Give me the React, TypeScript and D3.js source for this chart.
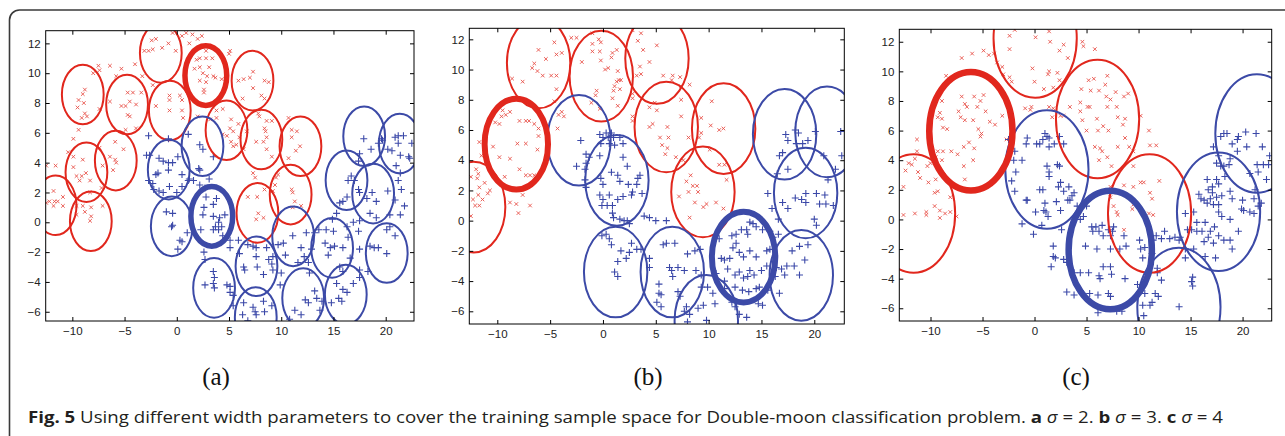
import * as d3 from "d3";
import { useEffect, useRef } from "react";

const WIDTH = 1285;
const HEIGHT = 436;

const xTicks = [-10, -5, 0, 5, 10, 15, 20];
const yTicks = [-6, -4, -2, 0, 2, 4, 6, 8, 10, 12];
const panelLabels = ["(a)", "(b)", "(c)"];
const sigmas = [2, 3, 4];

// axis ranges
const xRangeA = [-12.55, 22.71];
const yRangeA = [-6.62, 12.85];
const xRangeB = [-12.65, 22.84];
const yRangeB = [-6.84, 12.73];
const xRangeC = [-13.0, 22.8];
const yRangeC = [-6.86, 12.84];

// ---- panel (a), sigma = 2
const redA = [
	[-2.4, 12.2], [-2.0, 12.3], [-3.1, 11.5], [-2.7, 11.5], [-2.3, 11.6], [-1.4, 11.7], [-0.8, 12.0], [-0.1, 11.5], [-0.4, 12.7], [0.5, 12.5], [0.9, 12.7], [1.5, 12.6], [2.4, 12.5], [1.2, 12.0], [2.0, 12.3],
	[1.9, 10.9], [2.2, 11.0], [2.8, 11.0], [3.4, 11.0], [1.7, 10.3], [2.2, 10.4], [3.1, 10.4], [2.5, 10.0], [2.9, 9.8], [3.5, 9.8], [2.2, 9.5], [2.8, 9.4], [2.6, 8.9], [2.6, 8.7], [2.8, 11.5], [3.7, 9.7], [4.3, 9.6], [5.1, 11.5], [5.0, 11.3],
	[5.9, 9.5], [6.4, 9.6], [7.0, 9.7], [7.3, 10.1], [8.4, 9.5], [8.8, 9.4], [7.3, 9.0], [6.3, 8.3], [8.1, 8.5], [8.4, 8.3],
	[-8.8, 8.9], [-9.0, 8.6], [-9.4, 8.2], [-8.9, 8.0], [-9.5, 7.7], [-8.8, 7.3], [-8.6, 7.1], [-9.1, 7.0], [-9.4, 6.2], [-8.0, 10.0], [-7.5, 10.5], [-7.4, 10.2], [-6.4, 10.5], [-5.8, 9.8], [-5.3, 10.3], [-4.0, 10.6], [-3.3, 9.8], [-2.3, 9.2], [-6.4, 8.1], [-4.7, 8.7], [-4.2, 8.7], [-5.3, 7.8], [-4.9, 7.8], [-4.5, 8.1], [-3.9, 7.9], [-4.7, 7.2], [-4.5, 7.1], [-3.4, 8.7], [-7.4, 7.6], [-9.9, 5.6], [-4.9, 6.2],
	[-0.7, 8.5], [0.3, 8.5], [-0.7, 8.2], [0.5, 8.2], [-0.7, 7.5], [0.5, 7.5], [-2.0, 7.8], [0.6, 7.0], [2.0, 7.1],
	[3.8, 7.5], [4.4, 7.6], [5.2, 6.9], [5.9, 6.6], [5.1, 6.3], [5.4, 6.1], [4.4, 5.9], [5.2, 5.4], [5.4, 5.1], [5.7, 5.2], [3.8, 7.0], [4.8, 5.8], [3.2, 6.9], [6.0, 5.7],
	[7.8, 7.3], [7.9, 7.1], [8.6, 6.8], [9.1, 6.8], [8.4, 6.3], [8.5, 6.1], [7.6, 5.4], [8.3, 5.4], [8.6, 5.7], [8.6, 4.9], [9.1, 4.4], [6.7, 6.1], [6.4, 4.9], [7.3, 3.3], [7.5, 3.0], [9.7, 3.2], [9.5, 3.0], [9.4, 2.5],
	[10.7, 7.0], [11.0, 6.2], [11.5, 6.1], [11.0, 5.7], [11.8, 5.1], [11.4, 4.8], [10.7, 4.3],
	[11.0, 2.2], [11.1, 2.0], [11.3, 1.4], [11.1, 1.0], [11.9, 1.1],
	[6.8, 1.7], [7.7, 1.7], [8.4, 2.2], [7.8, 0.6], [7.6, 0.2], [8.3, 0.3], [9.2, 2.1],
	[-5.9, 5.4], [-7.4, 5.0], [-6.4, 4.4], [-5.9, 4.2], [-5.8, 4.0], [-6.1, 3.5], [-7.1, 3.8], [-5.1, 4.9], [-3.9, 6.3], [-7.2, 2.3],
	[-9.0, 4.2], [-9.9, 3.7], [-9.6, 3.1], [-9.1, 3.1], [-8.7, 3.3], [-8.3, 2.8], [-9.3, 2.8], [-10.4, 4.7], [-12.5, 3.8], [-11.6, 3.8], [-9.9, 4.4], [-8.3, 2.0],
	[-11.8, 2.1], [-10.9, 1.7], [-12.2, 1.4], [-11.7, 1.4], [-11.8, 1.1], [-11.4, 1.4], [-10.9, 1.1], [-12.5, 1.3],
	[-9.6, 1.1], [-9.0, 1.1], [-8.2, 1.0], [-8.2, 0.4], [-8.3, 0.1], [-9.6, 0.5], [-8.8, 0.7], [-7.1, 1.1]
];

const blueA = [
	[-2.7, 5.8], [-0.8, 5.6], [-2.9, 4.5], [-2.6, 4.5], [-1.7, 4.3], [-1.3, 4.1], [-0.8, 4.0], [-0.4, 4.0], [0.1, 4.4], [-1.8, 3.3], [-2.7, 2.8], [-2.3, 2.6], [-2.2, 2.2], [-1.7, 2.1], [-1.3, 2.0], [-0.7, 2.4], [0.0, 2.0], [0.5, 2.4], [1.1, 2.8], [1.2, 2.9], [-0.8, 3.5], [0.5, 3.2], [1.1, 5.9], [-2.0, 3.2], [2.2, 5.2], [2.5, 4.9], [2.1, 3.6], [2.2, 3.5], [3.5, 4.4], [1.6, 2.8], [2.2, 2.5],
	[-1.0, 0.7], [-0.4, 0.6], [-0.5, -0.3], [-0.4, -0.2], [0.3, -1.2], [0.5, -1.3], [0.1, -1.8], [1.0, -0.7], [2.6, 1.0], [2.5, 0.5], [3.5, 0.4], [4.1, 0.3], [4.0, 0.0], [3.7, -0.3], [4.0, -0.5], [4.3, -0.3], [3.5, -0.5], [2.3, -0.5], [4.6, 0.5], [3.8, 1.6], [3.5, 1.2], [2.8, 1.7], [2.7, 2.3], [3.1, 2.9], [4.4, -0.9], [5.1, -1.2], [5.1, -1.7], [5.9, -1.2], [2.6, -2.0], [2.7, -2.5],
	[6.8, -1.5], [7.3, -1.6], [7.6, -1.7], [7.6, -2.3], [7.7, -3.0], [6.4, -3.0], [6.5, -3.2], [8.8, -2.5], [9.1, -2.8], [9.2, -3.2], [8.3, -3.5], [9.2, -2.3], [8.6, -1.7], [6.0, -2.1], [9.9, -4.2], [10.0, -3.4],
	[3.5, -3.3], [2.7, -4.2], [3.5, -4.1], [3.6, -3.7], [3.6, -4.4], [4.8, -4.2], [5.1, -4.3], [5.1, -4.7], [5.4, -4.9],
	[6.4, -5.4], [7.3, -5.7], [8.3, -5.3], [7.5, -6.0], [8.4, -6.0], [9.1, -5.6], [6.3, -6.2], [7.6, -6.2], [6.8, -6.6], [5.4, -5.6],
	[9.7, -1.5], [10.2, -1.4], [11.1, -0.9], [10.4, -2.2], [11.9, -1.7], [12.2, -2.3], [12.4, -0.7], [12.9, -1.8], [12.6, -2.7], [13.2, -0.7], [11.6, -2.7], [12.7, -3.4], [13.6, -0.5],
	[14.3, -0.5], [15.0, -0.6], [14.2, -1.4], [14.7, -1.7], [15.1, -1.6], [15.9, -1.7], [14.5, -2.2], [15.6, -3.0], [15.9, -3.3], [16.4, -1.0], [16.6, -2.4], [14.9, 0.2], [16.3, -0.3], [17.4, -0.6], [17.5, -1.8], [17.5, -3.2],
	[15.3, -4.1], [15.9, -4.5], [16.3, -4.7], [16.9, -4.1], [17.5, -3.7], [14.8, -5.4], [15.5, -5.1], [13.9, -5.3], [13.2, -4.6], [13.4, -5.1], [13.7, -5.9], [15.8, -5.3],
	[11.3, -5.9], [12.3, -5.2], [12.6, -5.4], [11.9, -6.2], [10.8, -6.5],
	[18.5, -1.6], [18.9, -1.7], [19.3, -1.7], [20.1, -2.1], [20.1, -0.5], [20.4, -0.3], [20.9, -0.9], [18.3, -3.3],
	[15.6, 1.3], [15.9, 1.4], [16.3, 1.7], [16.4, 2.8], [16.7, 3.1], [17.0, 2.8], [17.4, 2.2], [17.5, 2.0], [18.2, 1.6], [18.7, 2.0], [19.1, 1.4], [18.5, 0.6], [19.1, 0.3], [20.2, 2.1], [20.9, 1.5], [21.8, 1.1], [21.2, 2.8], [21.5, 2.2], [20.4, 0.5], [21.4, 0.5], [15.3, 0.6], [16.9, 0.0], [17.5, 0.1],
	[17.9, 5.6], [18.6, 4.9], [19.3, 5.3], [19.6, 5.6], [20.2, 4.9], [20.9, 5.7], [21.2, 5.8], [21.7, 5.8], [21.2, 5.3], [21.4, 4.5], [22.2, 4.4], [22.5, 5.3], [21.0, 3.8], [21.4, 3.3], [17.5, 4.6], [17.4, 4.1], [19.7, 5.5], [20.6, 4.8], [22.3, 4.3]
];

const redCentersA = [[-1.53, 11.36], [7.25, 9.5], [-9.0, 8.57], [-4.76, 7.9], [-0.67, 7.5], [4.76, 6.17], [8.1, 5.55], [11.84, 5.1], [-5.84, 4.14], [-8.65, 3.36], [-11.6, 1.14], [-8.23, 0.07], [7.72, 0.63], [10.9, 1.86]];
const blueCentersA = [[2.46, 5.1], [-0.77, 3.53], [-0.48, -0.27], [17.94, 5.77], [21.35, 5.28], [16.25, 2.82], [18.8, 1.92], [11.14, -0.94], [14.87, -1.72], [20.1, -2.06], [7.63, -2.95], [3.57, -4.4], [12.1, -5.08], [16.18, -4.85], [7.56, -6.35]];
const boldRedA = [2.78, 9.84];
const boldBlueA = [3.35, 0.4];

// ---- panel (b), sigma = 3
const redB = [
	[-6.1, 11.3], [-5.4, 10.7], [-4.6, 11.8], [-4.4, 11.0], [-3.9, 11.1], [-6.7, 10.1], [-6.5, 10.4], [-6.2, 9.9], [-5.7, 9.6], [-4.9, 9.6], [-4.4, 9.6], [-8.6, 9.4], [-7.6, 9.2], [-4.4, 8.7], [-4.6, 7.9], [-3.9, 7.2], [-4.2, 7.0], [-3.7, 6.9], [-4.3, 6.1], [-3.0, 12.1], [-2.5, 12.1], [-2.0, 10.5], [-1.0, 12.4],
	[-1.0, 11.7], [-0.4, 12.0], [-0.2, 11.8], [-1.0, 11.2], [-0.3, 11.2], [-0.2, 10.6], [0.9, 11.1], [0.8, 10.8], [1.3, 11.3], [0.2, 10.0], [0.5, 10.1], [1.4, 9.9], [1.5, 9.3], [1.3, 9.2], [1.0, 8.6], [1.1, 8.9], [1.7, 9.3], [-0.6, 8.6], [-0.7, 8.3], [0.9, 8.1], [1.4, 7.6], [-1.1, 7.8], [-0.3, 7.4], [1.6, 8.7],
	[2.8, 12.6], [3.6, 12.4], [3.3, 11.9], [3.8, 11.3], [5.1, 11.6], [3.5, 10.2], [3.6, 9.7], [4.4, 10.5], [5.7, 9.6], [6.6, 9.6], [7.3, 9.5], [6.5, 9.3], [8.2, 9.0], [7.4, 8.9], [2.8, 8.4], [2.8, 8.1], [3.2, 9.6],
	[4.4, 7.5], [4.9, 7.8], [5.1, 7.3], [7.4, 8.0], [7.4, 6.9], [6.1, 6.2], [4.4, 6.2], [4.7, 6.4], [5.4, 5.5], [6.2, 5.5], [5.6, 5.0], [6.1, 4.8], [5.9, 4.4], [6.9, 4.2], [7.6, 4.0], [2.8, 6.9], [2.8, 6.6], [8.1, 5.5],
	[10.3, 7.9], [9.3, 6.8], [10.2, 6.3], [11.0, 6.0], [11.4, 6.1], [9.1, 5.5], [9.3, 5.8], [10.1, 4.7], [11.0, 3.7], [11.5, 3.7], [11.7, 2.7],
	[8.3, 3.0], [7.9, 2.6], [8.5, 2.3], [8.9, 2.3], [9.0, 1.9], [8.1, 1.9], [7.2, 1.6], [8.7, 1.2], [9.5, 0.9], [9.8, 1.1], [10.7, 1.2], [11.4, 0.8], [8.2, 0.2],
	[-9.5, 7.3], [-8.8, 7.2], [-9.2, 7.0], [-9.6, 6.9], [-10.2, 6.5], [-9.8, 6.4], [-7.9, 6.6], [-7.3, 6.6], [-7.0, 6.6], [-6.5, 6.4], [-6.1, 6.1], [-6.1, 5.6], [-7.3, 5.1], [-8.1, 5.1], [-8.8, 4.1], [-9.8, 4.2], [-10.4, 4.9], [-11.7, 5.2], [-11.5, 4.3], [-6.9, 3.0], [-6.5, 3.0], [-9.3, 2.9], [-7.6, 1.7], [-6.9, 1.0], [-8.2, 1.1], [-8.8, 1.2], [-8.0, 0.5], [-6.2, 4.7], [-7.9, 3.4], [-7.3, 3.0],
	[-12.5, 2.9], [-12.0, 3.4], [-11.8, 3.1], [-11.9, 2.8], [-11.7, 2.2], [-11.2, 2.5], [-10.7, 2.0], [-11.8, 1.7], [-11.4, 1.4], [-10.9, 1.8], [-12.3, 1.4], [-12.1, 1.0], [-11.7, 1.0], [-12.5, 0.3]
];

const blueB = [
	[-2.1, 5.3], [-0.3, 5.7], [0.0, 5.5], [0.3, 5.8], [0.5, 5.5], [0.8, 5.8], [1.0, 5.5], [-0.2, 5.1], [0.6, 5.1], [1.1, 5.0], [1.6, 5.5], [1.9, 5.1], [-1.6, 4.4], [-1.3, 4.2], [-0.3, 4.3], [-1.6, 3.8], [-2.5, 3.6], [-1.7, 3.4], [-1.7, 2.7], [-1.6, 2.2], [-0.2, 2.8], [0.0, 2.4], [0.8, 3.2], [1.4, 3.0], [1.6, 2.6], [1.9, 4.2], [2.3, 3.6], [2.4, 2.4], [2.7, 1.7], [2.8, 1.9], [3.3, 2.8], [3.5, 3.0], [3.2, 2.4], [3.7, 1.8],
	[0.0, 1.4], [-0.1, 1.0], [0.4, 1.0], [0.9, 1.0], [0.9, 0.5], [1.0, 0.2], [1.6, 0.1], [2.0, 0.0], [2.3, 0.0], [2.5, -0.2], [3.9, 0.3], [4.4, 0.2], [5.0, 0.0], [6.0, 0.0], [0.3, -0.9], [-0.1, -1.0], [0.6, -1.2], [0.8, -1.6], [1.4, -2.7], [1.1, -3.4], [1.4, -3.7], [2.2, -2.5], [2.7, -1.5], [3.2, -1.9], [2.5, -2.1], [3.6, -1.9], [4.4, -2.5], [1.9, 1.6], [0.6, 1.7], [-0.3, 1.7], [1.4, 1.4], [1.7, -2.0],
	[5.7, -1.6], [6.0, -1.5], [6.8, -1.5], [4.4, -3.1], [6.3, -3.1], [6.5, -3.3], [6.6, -3.7], [7.1, -3.1], [7.7, -3.3], [8.0, -2.2], [8.7, -2.0], [9.2, -1.9], [8.8, -3.3], [9.3, -3.6], [5.3, -4.2], [5.3, -4.8], [5.5, -4.9], [5.1, -5.4], [5.5, -5.7], [7.1, -4.7], [7.3, -5.0], [7.9, -5.7], [7.7, -6.0], [8.2, -6.2], [8.0, -6.7], [9.0, -5.8], [9.5, -5.6], [9.8, -6.6], [10.4, -4.8], [10.6, -5.5], [9.9, -4.4], [9.3, -4.4],
	[11.0, -1.2], [12.2, -1.0], [12.6, -0.9], [13.1, -0.6], [13.6, -0.6], [13.7, -0.9], [13.9, -0.1], [14.2, -0.2], [14.5, -0.4], [15.1, -0.6], [15.8, -0.7], [16.1, -1.1], [16.6, -0.9], [12.6, -1.5], [12.3, -1.8], [12.9, -2.1], [13.9, -2.0], [15.5, -2.0], [15.8, -1.9], [11.2, -2.5], [11.5, -2.6], [12.0, -2.5], [13.3, -2.4], [14.5, -2.4],
	[10.7, -3.5], [11.8, -3.2], [12.5, -3.6], [12.9, -3.4], [13.3, -3.8], [13.7, -3.7], [14.3, -3.6], [13.9, -3.3], [15.0, -3.3], [15.5, -3.0], [11.5, -4.0], [12.5, -4.4], [11.5, -4.5], [13.2, -4.6], [13.8, -4.7], [14.5, -4.5], [14.8, -4.4], [15.6, -4.6], [12.2, -5.4], [12.5, -5.7], [12.9, -6.2], [13.6, -6.4], [14.7, -5.5], [15.1, -5.6],
	[16.4, -3.1], [16.3, -3.7], [16.9, -3.2], [17.2, -3.6], [16.7, -4.8], [17.4, -3.0], [18.1, -3.0], [18.6, -3.6], [19.1, -2.6], [17.9, -2.0], [18.6, -1.7], [19.4, -1.6],
	[17.3, 5.7], [17.5, 5.3], [18.2, 6.0], [18.5, 5.8], [18.3, 5.1], [18.9, 5.1], [19.4, 5.3], [20.1, 5.9], [22.5, 5.9], [22.6, 4.3], [16.7, 4.3], [17.0, 4.5], [17.5, 3.4], [16.5, 3.1], [20.9, 4.3], [21.3, 2.7], [22.0, 3.4], [15.6, 1.8], [17.0, 1.2], [17.5, 0.8], [18.2, 1.5], [18.8, 1.4], [19.2, 1.2], [19.2, 1.8], [20.2, 1.8], [21.0, 1.7], [20.5, 1.1], [21.1, 1.1], [21.8, 1.0], [20.0, 0.1], [20.2, -0.3], [16.0, 0.8], [16.6, 0.1]
];

const redCentersB = [[-6.09, 10.44], [-0.16, 9.56], [5.11, 10.73], [5.99, 6.2], [11.42, 6.09], [9.46, 1.9], [-12.24, 0.9]];
const blueCentersB = [[-2.27, 5.32], [1.32, 2.67], [17.19, 5.72], [21.2, 5.87], [19.18, 1.83], [1.2, -3.4], [6.56, -3.4], [18.77, -3.62], [9.78, -6.6]];
const boldRedB = [-8.2, 5.06];
const boldBlueB = [13.31, -2.41];

// ---- panel (c), sigma = 4
const redC = [
	[-1.9, 12.8], [0.1, 12.3], [1.4, 12.7], [1.5, 12.0], [2.8, 11.8], [2.4, 11.4], [3.2, 10.9], [4.6, 12.0], [4.7, 11.7], [5.8, 11.5], [-2.4, 12.4], [-2.4, 11.5], [-4.9, 11.4], [-4.4, 11.1], [-3.9, 11.2], [-3.1, 10.3], [-3.6, 10.6], [-6.0, 11.2], [-7.0, 10.9], [-8.5, 9.7], [-0.2, 10.2], [0.0, 9.3], [0.9, 8.8], [1.4, 10.0], [1.3, 9.8], [1.8, 8.9], [2.4, 9.4], [-2.4, 9.6], [-2.2, 9.3], [-3.0, 9.8], [2.2, 9.9],
	[-8.9, 8.0], [-9.1, 7.2], [-9.3, 6.9], [-8.9, 6.8], [-8.8, 6.2], [-8.4, 6.1], [-7.0, 8.3], [-6.7, 7.8], [-6.5, 7.6], [-5.8, 8.3], [-5.2, 8.0], [-4.9, 8.4], [-4.7, 7.3], [-5.5, 7.6], [-7.3, 7.3], [-7.1, 6.9], [-6.7, 6.7], [-5.9, 6.7], [-4.3, 6.6], [-3.8, 6.4], [-3.1, 7.0], [-5.4, 6.1], [-5.1, 5.8], [-5.2, 5.6], [-6.3, 5.2], [-5.8, 4.8], [-6.8, 4.9], [-5.9, 4.0], [-6.8, 3.6], [-6.7, 2.7],
	[-7.4, 4.4], [-8.0, 4.6], [-8.8, 4.6], [-8.9, 4.0], [-9.5, 4.2], [-9.3, 4.6], [-10.3, 3.6], [-10.0, 3.8], [-9.5, 2.7], [-10.2, 2.5], [-11.3, 5.4], [-11.3, 4.6], [-11.5, 4.1], [-12.1, 3.8], [-11.8, 3.7], [-12.4, 3.3], [-12.6, 2.2], [-11.2, 3.2], [-11.0, 2.8], [-9.6, 1.8], [-9.3, 1.9], [-8.1, 1.5], [-9.6, 0.9], [-9.1, 0.6], [-9.1, 0.1], [-8.6, 0.4], [-8.1, 0.5], [-7.5, 0.2], [-10.4, 0.5], [-10.4, 0.3], [-11.5, 0.4], [-12.6, 0.3],
	[-2.7, 5.4], [-0.9, 7.5], [-0.4, 7.4], [-0.3, 7.6], [1.4, 7.6], [1.8, 7.5], [1.7, 6.9],
	[5.2, 9.4], [5.7, 9.5], [5.4, 8.7], [6.2, 8.7], [6.8, 9.1], [7.0, 9.7], [6.9, 8.3], [7.3, 8.1], [7.8, 8.6], [8.6, 8.3], [9.0, 8.5], [7.9, 7.6], [7.0, 7.6], [5.1, 7.6], [5.3, 7.6], [4.4, 7.3], [6.0, 6.8], [6.6, 6.3], [4.6, 6.7], [5.0, 6.0], [6.1, 6.0], [7.1, 6.0], [8.0, 6.9], [8.7, 6.8], [8.5, 6.4], [8.7, 5.5], [8.0, 4.9], [9.1, 4.9], [9.5, 4.6], [5.8, 4.9], [6.3, 4.8], [6.5, 4.6], [7.0, 4.2], [6.2, 4.0], [7.4, 3.6], [10.2, 7.0], [11.0, 6.0], [11.1, 5.0], [11.7, 5.0], [4.5, 8.8], [2.8, 7.0], [3.4, 7.6], [4.4, 7.9], [2.5, 7.0],
	[9.5, 3.6], [8.6, 2.3], [7.9, 1.8], [7.3, 1.5], [7.6, 0.9], [7.9, 0.5], [8.0, 0.3], [10.2, 2.5], [10.5, 2.5], [12.0, 2.6], [11.1, 1.8], [11.3, 1.4], [11.0, 0.4], [11.4, 0.3], [9.5, 1.0], [9.4, 0.7], [8.6, -0.7], [9.5, 2.2], [7.3, 2.2]
];

const blueC = [
	[-2.5, 5.4], [-1.9, 4.6], [-2.0, 4.0], [-1.2, 4.0], [-1.8, 3.2], [-2.2, 2.6], [-1.9, 1.9], [-0.7, 1.3], [1.0, 5.8], [1.2, 5.6], [0.8, 5.4], [1.4, 5.5], [-0.7, 5.5], [-0.8, 5.1], [0.2, 5.1], [0.5, 5.1], [1.4, 4.9], [1.9, 5.1], [2.4, 5.6], [2.8, 5.1], [1.2, 3.6], [1.4, 3.2], [1.4, 2.9], [2.2, 3.7], [2.4, 3.6], [2.5, 2.5], [2.3, 2.2], [2.8, 1.9], [3.3, 2.2], [3.8, 1.8], [0.8, 2.0], [0.5, 2.0], [1.0, 1.1], [1.1, 0.5], [1.3, 0.2], [0.1, 0.5], [0.7, -0.4], [-0.1, -1.0], [-1.2, -0.3], [-0.8, 1.3], [0.9, 0.6], [3.2, 1.3], [2.5, 0.6], [2.1, 1.2], [2.6, -0.7], [3.4, 1.3], [4.1, 0.9], [3.6, 1.6],
	[5.0, 0.9], [4.7, 0.2], [4.4, 0.0], [5.5, -0.5], [5.6, -0.8], [5.9, -0.5], [6.2, -0.8], [6.5, -0.4], [6.6, -1.1], [7.1, -0.7], [7.5, -0.8], [7.6, -0.5], [7.3, -1.1], [8.6, -1.1], [8.8, -1.8], [7.3, -2.0], [8.2, -2.0], [6.0, -2.0], [4.9, -1.8], [1.8, -1.8], [1.8, -2.5], [2.0, -2.6], [2.8, -2.7], [1.6, -3.2], [3.1, -2.9], [3.8, -3.6], [4.4, -3.6], [5.2, -3.6], [6.2, -3.8], [6.3, -4.0], [6.6, -3.2], [7.3, -3.2], [7.4, -3.7], [8.7, -4.0],
	[3.1, -4.9], [3.8, -5.1], [4.4, -4.8], [5.3, -5.0], [6.1, -5.1], [7.1, -5.0], [7.3, -5.2], [6.1, -6.3], [7.9, -6.2], [8.4, -6.2], [9.9, -4.4], [10.4, -4.5], [10.6, -5.0], [10.4, -5.8], [11.1, -5.8], [11.3, -5.6], [11.6, -5.0], [11.9, -5.2], [10.5, -6.5],
	[10.1, -1.4], [10.2, -2.0], [10.6, -1.9], [10.4, -2.6], [11.8, -3.3], [11.8, -3.6], [12.2, -4.1], [12.5, -0.8], [12.2, -1.3], [13.0, -1.3], [13.5, -1.2], [14.0, -1.2], [13.9, -1.4], [14.5, -2.0], [15.3, -2.0], [14.5, -2.6], [15.2, -3.9], [15.1, -4.2], [15.2, -4.5], [13.9, -5.9], [11.3, -2.3], [11.4, -1.4], [11.7, -1.1],
	[14.5, 0.4], [15.3, 0.5], [15.6, -0.2], [14.7, -0.7], [15.1, -0.7], [15.6, -0.8], [16.1, -0.8], [16.4, -0.2], [16.9, -0.8], [17.3, -0.5], [16.7, -1.2], [17.7, -1.1], [18.2, -1.4], [18.8, -1.4], [19.0, -2.0], [19.6, -0.8], [16.3, -1.5], [17.2, -1.6], [17.4, -2.6], [16.4, -2.5],
	[15.8, 1.7], [16.0, 1.4], [16.7, 2.0], [17.1, 1.8], [16.9, 1.4], [16.3, 1.3], [17.5, 1.5], [17.7, 0.5], [18.0, 1.6], [18.8, 1.9], [19.0, 1.4], [19.9, 0.7], [20.7, 0.5], [21.1, 0.4], [21.5, 0.9], [20.0, 1.3], [17.9, 3.6], [18.2, 3.6], [18.7, 3.7], [18.3, 2.9], [17.7, 2.4], [17.5, 2.7], [16.6, 2.7], [17.1, 2.2], [21.4, 3.7], [21.5, 3.2], [22.3, 2.7], [22.6, 4.3], [22.5, 3.7], [22.0, 3.7],
	[17.2, 4.9], [17.9, 5.6], [18.2, 5.8], [18.5, 5.8], [19.0, 5.1], [19.5, 5.4], [19.6, 5.6], [19.5, 4.6], [20.3, 5.9], [20.4, 4.9], [21.3, 5.8], [21.9, 4.9], [17.5, 3.8], [17.7, 4.3], [18.8, 4.1], [20.7, 3.1], [21.2, 2.0], [21.1, 1.4], [21.8, 1.1], [20.1, 0.6], [17.2, 1.0], [16.6, 1.1], [17.7, 1.0], [18.0, 0.2], [18.8, 0.0]
];

const redCentersC = [[0.06, 12.22], [6.06, 6.78], [-11.63, 0.4], [11.06, 0.4]];
const blueCentersC = [[1.19, 3.37], [17.69, 0.52], [21.38, 5.8], [13.88, -5.91]];
const boldRedC = [-6.12, 5.96];
const boldBlueC = [7.28, -2.07];

const panels = [
	{ xRange: xRangeA, yRange: yRangeA, red: redA, blue: blueA, redCenters: redCentersA, blueCenters: blueCentersA, boldRed: boldRedA, boldBlue: boldBlueA },
	{ xRange: xRangeB, yRange: yRangeB, red: redB, blue: blueB, redCenters: redCentersB, blueCenters: blueCentersB, boldRed: boldRedB, boldBlue: boldBlueB },
	{ xRange: xRangeC, yRange: yRangeC, red: redC, blue: blueC, redCenters: redCentersC, blueCenters: blueCentersC, boldRed: boldRedC, boldBlue: boldBlueC }
];

// pixel boxes of the three axes
const boxes = [
	{ left: 45.7, right: 414, top: 30.7, bottom: 321, labelX: 216, bold: 5.5 },
	{ left: 469.3, right: 844.3, top: 28.3, bottom: 324, labelX: 648, bold: 6 },
	{ left: 899.3, right: 1271.7, top: 29.3, bottom: 321, labelX: 1076, bold: 6.5 }
];

const RED = "#e1271d";
const RED_PT = "#e8514a";
const BLUE = "#3c4aa7";
const BLUE_PT = "#3b48a8";

const drawPanel = (svg: any, p: any, b: any, i: number) => {
	const sigma = sigmas[i];
	const x = d3.scaleLinear().domain(p.xRange).range([b.left, b.right]);
	const y = d3.scaleLinear().domain(p.yRange).range([b.bottom, b.top]);

	const clipId = `clip-${i}`;
	svg.append("clipPath").attr("id", clipId)
		.append("rect")
		.attr("x", b.left).attr("y", b.top)
		.attr("width", b.right - b.left).attr("height", b.bottom - b.top);

	const g = svg.append("g").attr("clip-path", `url(#${clipId})`);

	const s = 1.8;
	g.selectAll(".red-pt")
		.data(p.red)
		.enter()
		.append("path")
		.attr("d", (d: number[]) => {
			const cx = x(d[0]), cy = y(d[1]);
			return `M${cx - s},${cy - s}L${cx + s},${cy + s}M${cx - s},${cy + s}L${cx + s},${cy - s}`;
		})
		.attr("stroke", RED_PT)
		.attr("stroke-width", 0.9)
		.attr("fill", "none");

	const t = 3.5;
	g.selectAll(".blue-pt")
		.data(p.blue)
		.enter()
		.append("path")
		.attr("d", (d: number[]) => {
			const cx = x(d[0]), cy = y(d[1]);
			return `M${cx - t},${cy}L${cx + t},${cy}M${cx},${cy - t}L${cx},${cy + t}`;
		})
		.attr("stroke", BLUE_PT)
		.attr("stroke-width", 1.1)
		.attr("fill", "none");

	const rx = x(sigma) - x(0);
	const ry = y(0) - y(sigma);

	const circles = (data: number[][], color: string, width: number) => {
		g.selectAll(null)
			.data(data)
			.enter()
			.append("ellipse")
			.attr("cx", (d: number[]) => x(d[0]))
			.attr("cy", (d: number[]) => y(d[1]))
			.attr("rx", rx)
			.attr("ry", ry)
			.attr("fill", "none")
			.attr("stroke", color)
			.attr("stroke-width", width);
	};
	circles(p.redCenters, RED, 2);
	circles(p.blueCenters, BLUE, 2);
	circles([p.boldRed], RED, b.bold);
	circles([p.boldBlue], BLUE, b.bold);

	const styleAxis = (ax: any) => {
		ax.select(".domain").remove();
		ax.attr("font-family", "'Liberation Sans', Arial, sans-serif").attr("font-size", 11.5);
		ax.selectAll("line").attr("stroke", "#000");
		ax.selectAll("text").attr("fill", "#222");
	};

	styleAxis(svg.append("g").attr("transform", `translate(0,${b.bottom})`)
		.call(d3.axisBottom(x).tickValues(xTicks).tickSize(-4).tickPadding(6)));
	styleAxis(svg.append("g").attr("transform", `translate(0,${b.top})`)
		.call(d3.axisTop(x).tickValues(xTicks).tickSize(-4).tickFormat(() => "")));
	styleAxis(svg.append("g").attr("transform", `translate(${b.left},0)`)
		.call(d3.axisLeft(y).tickValues(yTicks).tickSize(-4).tickPadding(5)));
	styleAxis(svg.append("g").attr("transform", `translate(${b.right},0)`)
		.call(d3.axisRight(y).tickValues(yTicks).tickSize(-4).tickFormat(() => "")));

	svg.append("rect")
		.attr("x", b.left).attr("y", b.top)
		.attr("width", b.right - b.left).attr("height", b.bottom - b.top)
		.attr("fill", "none").attr("stroke", "#000").attr("stroke-width", 1);

	svg.append("text")
		.attr("x", b.labelX)
		.attr("y", 385)
		.attr("text-anchor", "middle")
		.attr("font-family", "'Liberation Serif', 'Times New Roman', serif")
		.attr("font-size", 25)
		.attr("fill", "#111")
		.text(panelLabels[i]);
};

const App = () => {
	const chartRef = useRef<SVGSVGElement>(null);

	useEffect(() => {
		const svg = d3.select(chartRef.current);
		svg.selectAll("*").remove();

		svg.append("rect").attr("width", WIDTH).attr("height", HEIGHT).attr("fill", "#fff");

		// outer figure frame with rounded top-left corner
		svg.append("path")
			.attr("d", `M9.5,${HEIGHT} L9.5,20 A10,10 0 0 1 19.5,10 L${WIDTH},10`)
			.attr("fill", "none")
			.attr("stroke", "#3a3a3a")
			.attr("stroke-width", 1.6);

		panels.forEach((p, i) => drawPanel(svg, p, boxes[i], i));

		const caption = svg.append("text")
			.attr("x", 28)
			.attr("y", 423)
			.attr("font-family", "'Open Sans', 'Noto Sans', sans-serif")
			.attr("font-size", 16)
			.attr("fill", "#231f20")
			.attr("textLength", 1195)
			.attr("lengthAdjust", "spacingAndGlyphs");
		const parts = [
			{ t: "Fig. 5", w: "bold" },
			{ t: " Using different width parameters to cover the training sample space for Double-moon classification problem. " },
			{ t: "a", w: "bold" }, { t: " " }, { t: "σ", s: "italic" }, { t: " = 2. " },
			{ t: "b", w: "bold" }, { t: " " }, { t: "σ", s: "italic" }, { t: " = 3. " },
			{ t: "c", w: "bold" }, { t: " " }, { t: "σ", s: "italic" }, { t: " = 4" }
		];
		parts.forEach((part: any) => {
			caption.append("tspan")
				.attr("font-weight", part.w || "normal")
				.attr("font-style", part.s || "normal")
				.text(part.t);
		});
	}, []);

	return (
		<svg ref={chartRef} width={WIDTH} height={HEIGHT} style={{ position: "fixed", left: 0, top: 0 }}></svg>
	);
};

export default App;
